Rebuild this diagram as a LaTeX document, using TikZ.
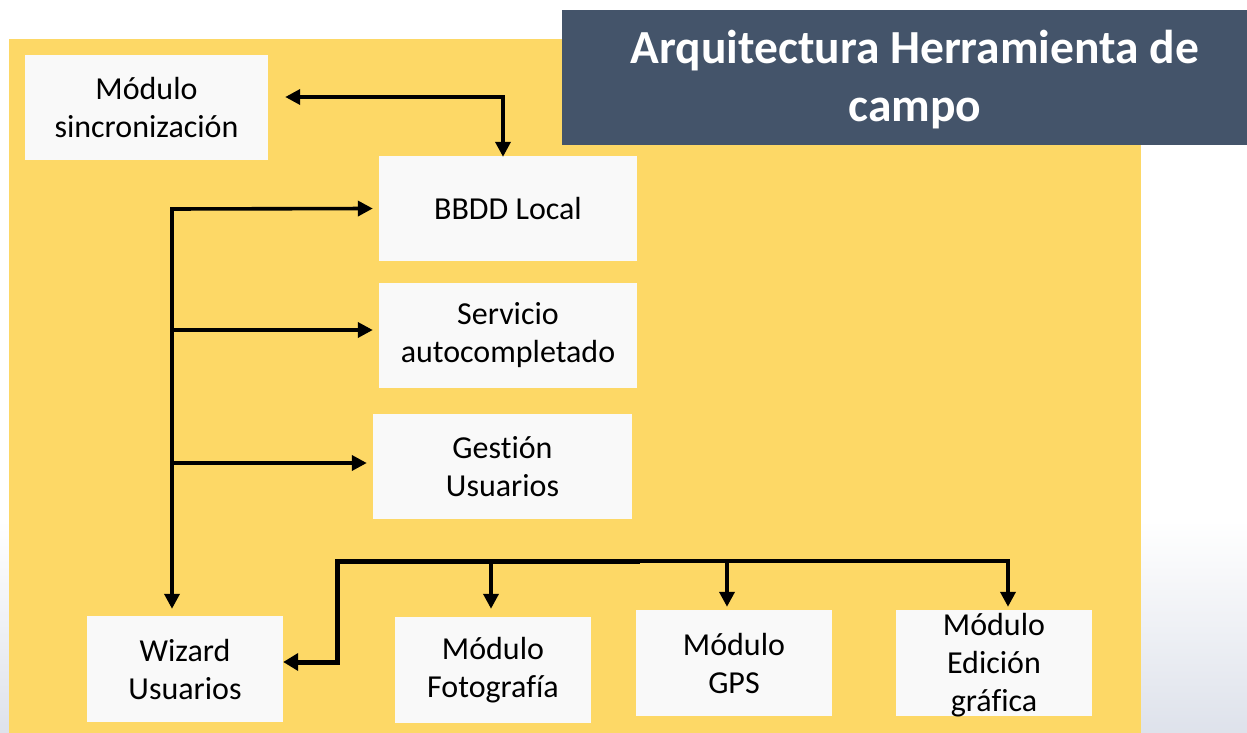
\documentclass[tikz,border=0pt]{standalone}
\usepackage{fontspec}
\setmainfont{Carlito}[Ligatures=NoCommon]
\usetikzlibrary{arrows.meta,calc}
\definecolor{slideyellow}{RGB}{253,216,102}
\definecolor{titleblue}{RGB}{68,84,106}
\definecolor{boxfill}{RGB}{249,249,249}
\definecolor{bggray}{RGB}{222,226,235}
\begin{document}
\begin{tikzpicture}[x=1pt,y=-1pt,
  box/.style={fill=boxfill, inner sep=0pt, align=center, font=\fontsize{32}{38}\selectfont},
  conn/.style={line width=3.6pt, -{Triangle[length=15pt,width=15pt]}},
  conn2/.style={line width=3.6pt, {Triangle[length=15pt,width=15pt]}-{Triangle[length=15pt,width=15pt]}},
]
\useasboundingbox (0,0) rectangle (1247,733);
% background
\fill[white] (0,0) rectangle (1247,733);
\shade[top color=white, bottom color=bggray] (0,520) rectangle (1247,733);
\fill[slideyellow] (9,39) rectangle (1141,733);
% title
\fill[titleblue] (562,10) rectangle (1247,145);
\node[font=\fontsize{47.5}{58}\selectfont\bfseries, text=white, align=center] (title) at (915,80) {Arquitectura Herramienta de\\campo};
% boxes
\node[box, minimum width=243pt, minimum height=105pt] (sync) at (146.5,107.5) {Módulo\\sincronización};
\node[box, minimum width=258pt, minimum height=105pt] (bbdd) at (508,208.5) {BBDD Local};
\node[box, minimum width=258pt, minimum height=105pt] (serv) at (508,335.5) {Servicio\\autocompletado};
\node[box, minimum width=259pt, minimum height=105pt] (gest) at (502.5,466.5) {Gestión\\Usuarios};
\node[box, minimum width=196pt, minimum height=106pt] (wiz) at (185,669) {Wizard\\Usuarios};
\node[box, minimum width=196pt, minimum height=106pt] (foto) at (493,670) {Módulo\\Fotografía};
\node[box, minimum width=196pt, minimum height=106pt] (gps) at (734,663) {Módulo\\GPS};
\fill[boxfill] (896,610) rectangle (1092,716);
\node[align=center, inner sep=0pt, font=\fontsize{32}{38}\selectfont] (edit) at (994,665) {Módulo\\Edición\\gráfica};
% connectors
\draw[conn2] ([xshift=17pt,yshift=10.5pt]sync.east) -| ([xshift=-5pt,yshift=-1pt]bbdd.north);
\coordinate (t) at (172,209);
\draw[conn] ([xshift=-1.8pt]t) -- ([xshift=-6pt]bbdd.west);
\draw[conn] (t |- 0,330) -- ([xshift=-6pt,yshift=5.5pt]serv.west);
\draw[conn] (t |- 0,463) -- ([xshift=-6pt,yshift=3.5pt]gest.west);
\draw[conn] ([yshift=-1.8pt]t) -- ([xshift=-13pt,yshift=7pt]wiz.north);
\coordinate (b) at (339,561);
\draw[line width=5pt, -{Triangle[length=15pt,width=17pt]}] ([xshift=-1.5pt,yshift=-2.5pt]b) |- ([yshift=7pt]wiz.east);
\draw[line width=5pt] ([xshift=-4pt]b) -- (640,561);
\draw[conn] (b) -| ([xshift=14pt,yshift=3pt]edit.north |- gps.north);
\draw[conn] ([xshift=-2pt]foto.north |- b) -- ([xshift=-2pt,yshift=8pt]foto.north);
\draw[conn] ([xshift=-7pt]gps.north |- b) -- ([xshift=-7pt,yshift=3pt]gps.north);
\end{tikzpicture}
\end{document}
